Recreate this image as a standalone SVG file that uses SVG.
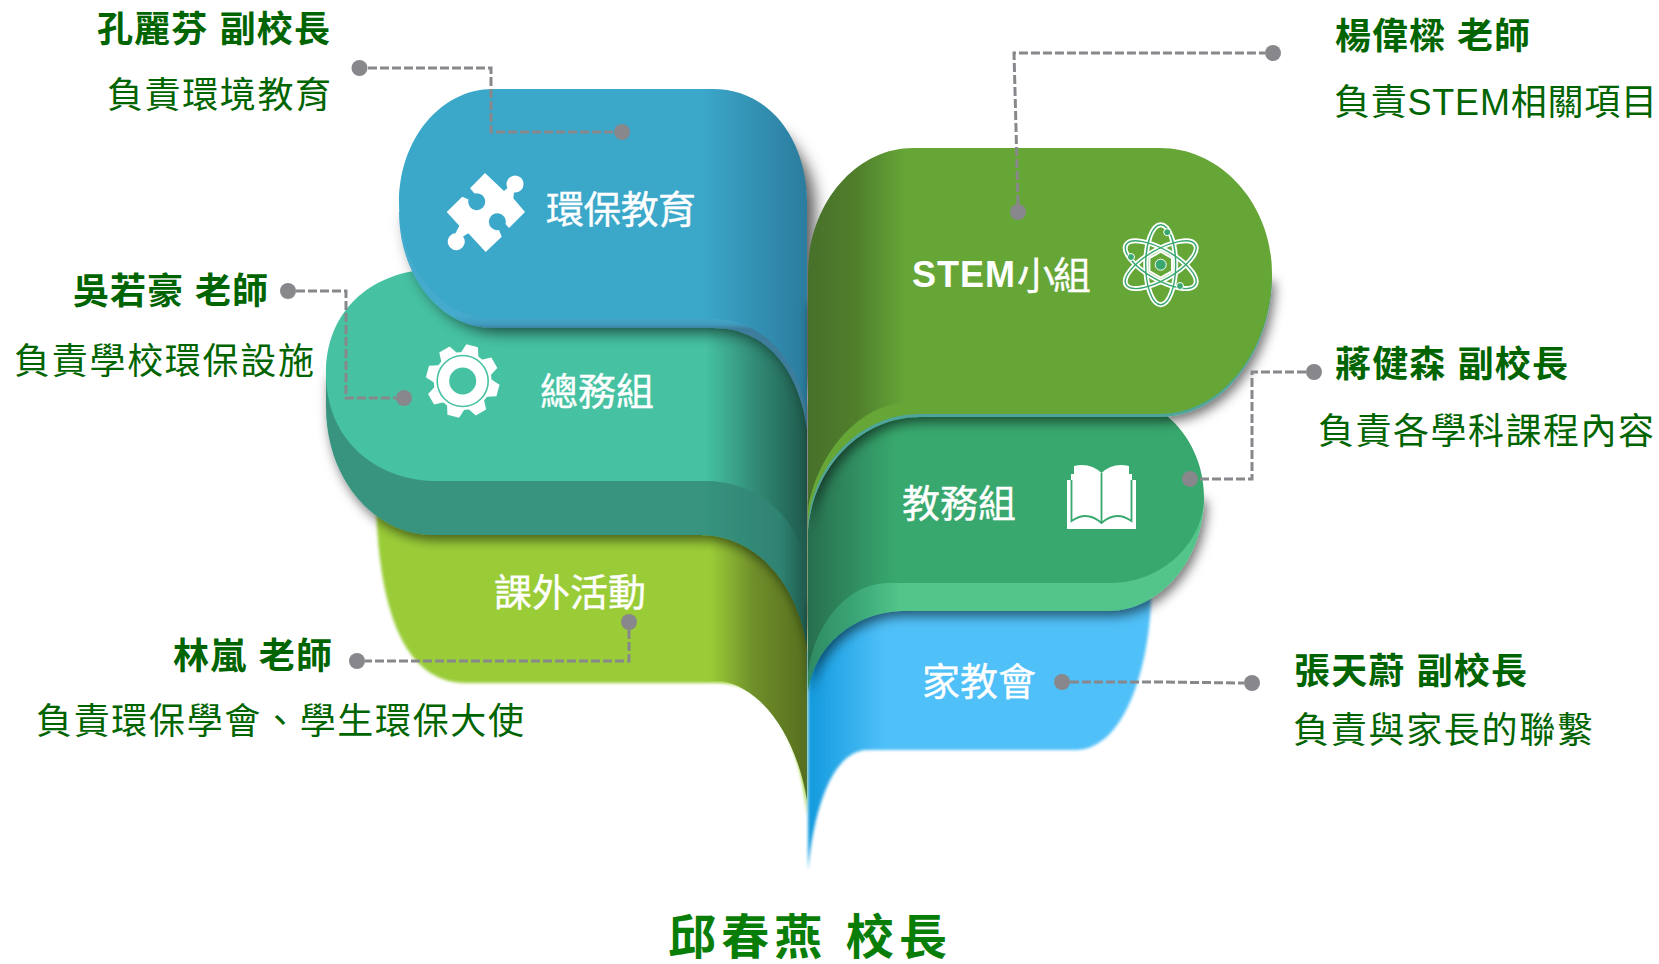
<svg xmlns="http://www.w3.org/2000/svg" xmlns:xlink="http://www.w3.org/1999/xlink" width="1659" height="964" viewBox="0 0 1659 964">
<style>
text{font-family:"Liberation Sans","Noto Sans CJK TC",sans-serif}
.h{font-size:36px;font-weight:700;fill:#006400}
.s{font-size:36px;font-weight:400;fill:#006400}
.l{font-size:38px;font-weight:400;fill:#fff;stroke:#fff;stroke-width:.35}
.c{fill:none;stroke:#88878b;stroke-width:3;stroke-dasharray:9 3}
.d{fill:#88878b}
.ic{fill:#fff}
</style>
<defs>
<filter id="sh" x="-20%" y="-20%" width="140%" height="140%"><feDropShadow dx="3" dy="5" stdDeviation="6" flood-color="#000" flood-opacity=".55"/></filter>
<filter id="shb" x="-20%" y="-20%" width="140%" height="140%"><feDropShadow dx="8" dy="4" stdDeviation="8" flood-color="#000" flood-opacity=".65"/></filter>
<filter id="soft" x="-5%" y="-5%" width="110%" height="110%"><feGaussianBlur stdDeviation="1.6"/></filter>
<linearGradient id="gBlue" gradientUnits="userSpaceOnUse" x1="700" y1="0" x2="807" y2="0"><stop offset="0" stop-color="#3ba8ca"/><stop offset="1" stop-color="#2b7c9e"/></linearGradient>
<linearGradient id="gBlueS" gradientUnits="userSpaceOnUse" x1="0" y1="316" x2="0" y2="329"><stop offset="0" stop-color="#44aacb"/><stop offset=".6" stop-color="#419cc0"/><stop offset="1" stop-color="#3d7d9b"/></linearGradient>
<linearGradient id="gTeal" gradientUnits="userSpaceOnUse" x1="705" y1="0" x2="807" y2="0"><stop offset="0" stop-color="#46c2a3"/><stop offset=".5" stop-color="#318a75"/><stop offset="1" stop-color="#1f5a4c"/></linearGradient>
<linearGradient id="gTealS" gradientUnits="userSpaceOnUse" x1="700" y1="0" x2="807" y2="0"><stop offset="0" stop-color="#37947f"/><stop offset=".75" stop-color="#2f8272"/><stop offset="1" stop-color="#1f5a4c"/></linearGradient>
<linearGradient id="gLime" gradientUnits="userSpaceOnUse" x1="710" y1="0" x2="807" y2="0"><stop offset="0" stop-color="#9acc37"/><stop offset=".45" stop-color="#6f8f2a"/><stop offset="1" stop-color="#566e1e"/></linearGradient>
<linearGradient id="gGreen" gradientUnits="userSpaceOnUse" x1="808" y1="0" x2="905" y2="0"><stop offset="0" stop-color="#47702a"/><stop offset=".5" stop-color="#507f2c"/><stop offset="1" stop-color="#65a637"/></linearGradient>
<linearGradient id="gDeep" gradientUnits="userSpaceOnUse" x1="808" y1="0" x2="895" y2="0"><stop offset="0" stop-color="#276f4f"/><stop offset="1" stop-color="#38a86e"/></linearGradient>
<linearGradient id="gLight" gradientUnits="userSpaceOnUse" x1="808" y1="0" x2="900" y2="0"><stop offset="0" stop-color="#2f8a62"/><stop offset=".5" stop-color="#3aa575"/><stop offset="1" stop-color="#52c58a"/></linearGradient>
<linearGradient id="gSky" gradientUnits="userSpaceOnUse" x1="808" y1="0" x2="885" y2="0"><stop offset="0" stop-color="#129ade"/><stop offset="1" stop-color="#4fc0f8"/></linearGradient>
<polygon id="tooth" points="-9,-27 -6,-36.500 6,-36.500 9,-27"/>
</defs>

<g id="node-lime">
<path d="M376 500C378 600 400 683 466 683H718C770 683 800 740 807 815V500Z" fill="#9acc37" filter="url(#soft)"/>
<path d="M700 500V681H722C768 690 798 745 807 800V500Z" fill="url(#gLime)"/>
<text class="l" x="494" y="606" textLength="152">課外活動</text>
</g>

<g id="node-teal">
<g filter="url(#sh)">
<path d="M326 373V407C326 480 375 535 433 535H700C760 535 800 590 807 650V400L600 370Z" fill="url(#gTealS)"/>
</g>
<path d="M420 270H700L807 350V565C798 520 760 480 703 481H433C375 479 326 440 326 373C326 315 365 277 420 270Z" fill="url(#gTeal)"/>
<g class="ic" transform="translate(462.700 381)">
<circle r="29"/>
<use href="#tooth" transform="rotate(15)"/><use href="#tooth" transform="rotate(60)"/><use href="#tooth" transform="rotate(105)"/><use href="#tooth" transform="rotate(150)"/><use href="#tooth" transform="rotate(195)"/><use href="#tooth" transform="rotate(240)"/><use href="#tooth" transform="rotate(285)"/><use href="#tooth" transform="rotate(330)"/>
<circle r="25.500" fill="none" stroke="#46c2a3" stroke-width="1.600"/>
<circle r="13.500" fill="#46c2a3"/>
</g>
<text class="l" x="540" y="405" textLength="114">總務組</text>
</g>

<g id="node-blue">
<g filter="url(#shb)">
<path d="M772 130C795 150 807 175 807 203V430C800 375 770 328 713 328H493C440 328 399 275 399 212L500 200Z" fill="url(#gBlueS)"/>
</g>
<path d="M493 89H713C770 89 807 140 807 203V413C800 370 770 319 713 319H493C440 319 399 265 399 203C399 140 440 89 493 89Z" fill="url(#gBlue)"/>
<path d="M485 173L504 191L507.500 188A8.500 8.500 0 1 1 514 192.500L513.300 198.300L525 212L509 228L505.500 224A8.500 8.500 0 1 0 499 230L501.700 236.700L485.700 252L468.300 233.300L463 236.500A8.500 8.500 0 1 1 455.500 233.200L459.300 225.700L446.700 212L462.300 196.700L468.500 199.500A8.500 8.500 0 1 0 474.500 193.500L470 188.300Z" class="ic"/>
<text class="l" x="546" y="223" textLength="150">環保教育</text>
</g>

<g id="node-sky">
<path d="M808 650L905 590H1151C1152 650 1130 750 1075 750H866C835 752 815 800 808 870Z" fill="url(#gSky)" filter="url(#soft)"/>
<text class="l" x="922" y="695" textLength="114">家教會</text>
</g>

<g id="node-deep">
<g filter="url(#sh)">
<path d="M808 693C815 640 860 611 905 611H1108C1160 611 1204 560 1204 497L1100 450L808 600Z" fill="url(#gLight)"/>
</g>
<path d="M808 530C812 470 860 416 920 416H1167C1190 435 1204 465 1204 497C1204 540 1165 583 1110 583H888C850 583 815 620 808 673Z" fill="url(#gDeep)"/>
<g id="icon-book">
<path d="M1067 480H1071V474H1074V466Q1090 462 1101.500 473Q1113 462 1129 466V474H1132V480H1136V529H1067Z" class="ic"/>
<path d="M1071.500 480V521Q1087 510 1101.500 523Q1116 510 1131.500 521V480M1101.500 473V523" fill="none" stroke="#38a86e" stroke-width="1.800"/>
</g>
<text class="l" x="902" y="517" textLength="114">教務組</text>
</g>

<g id="node-green">
<g filter="url(#sh)">
<path d="M808 530C813 468 860 417 920 417H1160C1222 417 1272 352 1272 276L1000 300L808 300Z" fill="#4fa59a"/>
</g>
<path d="M808 524C813 465 860 414 920 414H1160L1000 300L808 300Z" fill="#65a637"/>
<path d="M808 273C808 205 855 148 913 148H1160C1222 148 1272 205 1272 273C1272 350 1222 414 1160 414H1000L905 403C855 405 815 460 808 510Z" fill="url(#gGreen)"/>
<g id="icon-atom" transform="translate(1160.700 264.700)" fill="none">
<g stroke="#fff" stroke-width="5"><ellipse rx="40" ry="15" transform="rotate(90)"/><ellipse rx="40" ry="15" transform="rotate(30)"/><ellipse rx="40" ry="15" transform="rotate(-30)"/><polygon points="0,-13 11.300,-6.500 11.300,6.500 0,13 -11.300,6.500 -11.300,-6.500" stroke-width="2"/></g>
<g stroke="#38a86e" stroke-width="1.400"><ellipse rx="40" ry="15" transform="rotate(90)"/><ellipse rx="40" ry="15" transform="rotate(30)"/><ellipse rx="40" ry="15" transform="rotate(-30)"/></g>
<g fill="#38a86e" stroke="#fff" stroke-width="1"><circle r="5.500"/><circle cx="6.500" cy="-32.500" r="3.500"/><circle cx="-29.700" cy="-7.700" r="3.500"/><circle cx="19.300" cy="21.300" r="3.500"/></g>
</g>
<text x="912" y="287" font-size="36" font-weight="700" fill="#fff" textLength="103">STEM</text>
<text class="l" x="1017" y="289" textLength="74">小組</text>
</g>

<g id="connectors">
<path class="c" d="M368 68H491V132H614"/>
<path class="c" d="M296 291H346V398H396"/>
<path class="c" d="M1018 204L1014 53H1265"/>
<path class="c" d="M1306 372H1252V479H1198"/>
<path class="c" d="M629 630V661H365"/>
<path class="c" d="M1070 682L1157 682L1244 683"/>
<circle class="d" cx="359.500" cy="68" r="8"/><circle class="d" cx="622" cy="132" r="8"/>
<circle class="d" cx="288" cy="291" r="8"/><circle class="d" cx="404" cy="398" r="8"/>
<circle class="d" cx="1018" cy="212" r="8"/><circle class="d" cx="1273" cy="53" r="8"/>
<circle class="d" cx="1314" cy="372" r="8"/><circle class="d" cx="1190" cy="479" r="8"/>
<circle class="d" cx="357" cy="661" r="8"/><circle class="d" cx="629" cy="622" r="8"/>
<circle class="d" cx="1062" cy="682" r="8"/><circle class="d" cx="1252" cy="683" r="8"/>
</g>

<g id="person-kong"><text class="h" x="97" y="42" textLength="233">孔麗芬 副校長</text><text class="s" x="107" y="108" textLength="224">負責環境教育</text></g>
<g id="person-wu"><text class="h" x="73" y="304" textLength="195">吳若豪 老師</text><text class="s" x="14" y="374" textLength="300">負責學校環保設施</text></g>
<g id="person-lam"><text class="h" x="173" y="669" textLength="159">林嵐 老師</text><text class="s" x="36" y="734" textLength="488">負責環保學會、學生環保大使</text></g>
<g id="person-yeung"><text class="h" x="1335" y="49" textLength="195">楊偉樑 老師</text><text class="s" x="1334" y="115" textLength="323">負責STEM相關項目</text></g>
<g id="person-cheung"><text class="h" x="1335" y="377" textLength="233">蔣健森 副校長</text><text class="s" x="1318" y="444" textLength="336">負責各學科課程內容</text></g>
<g id="person-teung"><text class="h" x="1294" y="684" textLength="233">張天蔚 副校長</text><text class="s" x="1293" y="743" textLength="300">負責與家長的聯繫</text></g>
<g id="principal"><text x="668" y="953.500" font-size="48" font-weight="700" fill="#087d08" textLength="279">邱春燕 校長</text></g>
</svg>
